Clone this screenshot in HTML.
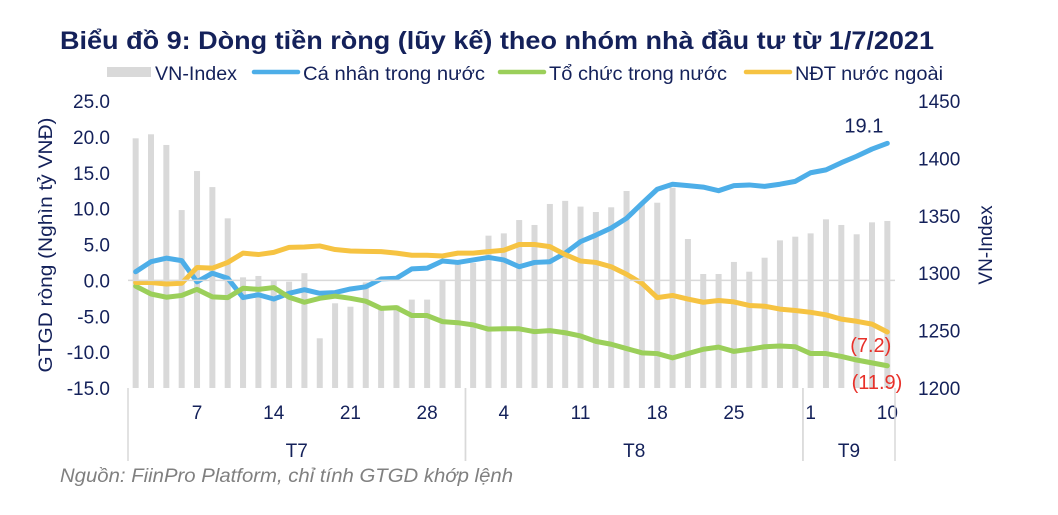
<!DOCTYPE html>
<html><head><meta charset="utf-8"><style>
body{margin:0;background:#fff;width:1058px;height:510px;overflow:hidden;font-family:"Liberation Sans","Noto Sans CJK SC",sans-serif}
svg text{font-family:"Liberation Sans","Noto Sans CJK SC",sans-serif}
</style></head><body>
<svg id="chart" width="1058" height="510" viewBox="0 0 1058 510" xmlns="http://www.w3.org/2000/svg">
<text x="60" y="49" font-size="25" font-weight="bold" fill="#14215a" textLength="874" lengthAdjust="spacingAndGlyphs">Biểu đồ 9: Dòng tiền ròng (lũy kế) theo nhóm nhà đầu tư từ 1/7/2021</text>
<g font-size="19" fill="#14215a">
<rect x="107" y="67" width="44" height="10" fill="#d9d9d9"/>
<text x="155" y="80" textLength="82" lengthAdjust="spacingAndGlyphs">VN-Index</text>
<line x1="254" y1="72" x2="298" y2="72" stroke="#4daee8" stroke-width="4.5" stroke-linecap="round"/>
<text x="303" y="80" textLength="182" lengthAdjust="spacingAndGlyphs">Cá nhân trong nước</text>
<line x1="500" y1="72" x2="544" y2="72" stroke="#9bcf5a" stroke-width="4.5" stroke-linecap="round"/>
<text x="549" y="80" textLength="178" lengthAdjust="spacingAndGlyphs">Tổ chức trong nước</text>
<line x1="746" y1="72" x2="790" y2="72" stroke="#f6c342" stroke-width="4.5" stroke-linecap="round"/>
<text x="795" y="80" textLength="148" lengthAdjust="spacingAndGlyphs">NĐT nước ngoài</text>
</g>
<g id="bars"></g><g id="lines"></g><g id="axes"></g>
<text transform="translate(52,245) rotate(-90)" text-anchor="middle" font-size="19" fill="#14215a" textLength="255" lengthAdjust="spacingAndGlyphs">GTGD ròng (Nghìn tỷ VNĐ)</text>
<text transform="translate(992,245) rotate(-90)" text-anchor="middle" font-size="19" fill="#14215a">VN-Index</text>
<text x="60" y="482" font-size="19" font-style="italic" fill="#808080" textLength="453" lengthAdjust="spacingAndGlyphs">Nguồn: FiinPro Platform, chỉ tính GTGD khớp lệnh</text>
</svg>
<script>
const vnIndex=[1417.5,1421,1411.7,1355,1389,1375,1347.8,1296.4,1297.6,1293.8,1292.6,1300,1243.3,1273.8,1270.8,1292,1268,1272,1277,1277,1294,1308.6,1309,1332.7,1334.7,1346.3,1342,1360.3,1363,1358,1353.3,1357.4,1371.6,1360,1361.4,1374.5,1329.8,1299.3,1299.3,1309.8,1301.3,1313.5,1328.6,1331.8,1334.7,1346.9,1342,1333.9,1344.3,1345.5];
const individual=[1.2,2.6,3.1,2.75,-0.2,1.0,0.3,-2.4,-2.0,-2.6,-1.8,-1.3,-1.8,-1.7,-1.2,-0.9,0.2,0.3,1.6,1.7,2.7,2.5,2.85,3.2,2.85,1.9,2.5,2.6,3.8,5.4,6.3,7.3,8.65,10.7,12.7,13.4,13.2,13.0,12.5,13.2,13.3,13.1,13.4,13.8,15.0,15.4,16.4,17.3,18.3,19.1];
const institution=[-0.8,-1.9,-2.35,-2.1,-1.25,-2.3,-2.4,-1.1,-1.25,-1.0,-2.35,-3.05,-2.5,-2.2,-2.5,-2.9,-3.9,-3.8,-4.9,-4.9,-5.75,-5.9,-6.2,-6.8,-6.75,-6.75,-7.15,-7.0,-7.3,-7.75,-8.5,-8.9,-9.5,-10.1,-10.2,-10.8,-10.2,-9.6,-9.3,-9.9,-9.6,-9.25,-9.15,-9.25,-10.2,-10.2,-10.6,-11.1,-11.5,-11.9];
const foreign=[-0.3,-0.3,-0.5,-0.4,1.8,1.7,2.5,3.8,3.6,3.9,4.6,4.65,4.8,4.3,4.1,4.05,4.0,3.8,3.5,3.5,3.4,3.8,3.8,4.0,4.2,5.0,5.0,4.7,3.6,2.7,2.5,1.9,0.85,-0.4,-2.4,-2.1,-2.6,-3.05,-2.8,-3.0,-3.5,-3.6,-4.0,-4.2,-4.45,-4.8,-5.4,-5.7,-6.1,-7.2];
const leftTicks=["25.0","20.0","15.0","10.0","5.0","0.0","-5.0","-10.0","-15.0"];
const rightTicks=["1450","1400","1350","1300","1250","1200"];
const dayLabels=[{i:4,t:"7"},{i:9,t:"14"},{i:14,t:"21"},{i:19,t:"28"},{i:24,t:"4"},{i:29,t:"11"},{i:34,t:"18"},{i:39,t:"25"},{i:44,t:"1"},{i:49,t:"10"}];
const months=[{s:0,e:22,t:"T7"},{s:22,e:44,t:"T8"},{s:44,e:50,t:"T9"}];

const NS="http://www.w3.org/2000/svg";
const X0=128,STEP=(895-128)/50,TOP=101,BOT=388;
const yL=v=>TOP+(25-v)*(BOT-TOP)/40;
const yR=v=>TOP+(1450-v)*(BOT-TOP)/250;
const xC=i=>X0+(i+0.5)*STEP;
function mk(tag,attrs,parent){const e=document.createElementNS(NS,tag);for(const k in attrs)e.setAttribute(k,attrs[k]);parent.appendChild(e);return e;}
const bars=document.getElementById('bars'),lines=document.getElementById('lines'),axes=document.getElementById('axes');
vnIndex.forEach((v,i)=>{const r=mk('rect',{x:xC(i)-3,y:yR(v),width:6,height:BOT-yR(v),fill:'#d9d9d9'},bars);

});
const zl=mk('line',{x1:X0,x2:895,y1:yL(0),y2:yL(0),stroke:'#d9d9d9','stroke-width':1.5},axes);


[[individual,'#4daee8','individual-line'],[institution,'#9bcf5a','institution-line'],[foreign,'#f6c342','foreign-line']].forEach(([d,c,n])=>{
const p=mk('polyline',{points:d.map((v,i)=>xC(i)+','+yL(v)).join(' '),fill:'none',stroke:c,'stroke-width':5,'stroke-linejoin':'round','stroke-linecap':'round'},lines);

});
leftTicks.forEach((t,k)=>{const e=mk('text',{x:110,y:TOP+k*(BOT-TOP)/8+7,'text-anchor':'end','font-size':19,fill:'#14215a'},axes);e.textContent=t;

});
rightTicks.forEach((t,k)=>{const e=mk('text',{x:918,y:TOP+k*(BOT-TOP)/5+7,'font-size':19,fill:'#14215a'},axes);e.textContent=t;

});
dayLabels.forEach(d=>{const e=mk('text',{x:xC(d.i),y:419,'text-anchor':'middle','font-size':19,fill:'#14215a'},axes);e.textContent=d.t;

});
months.forEach(m=>{const e=mk('text',{x:(X0+m.s*STEP+X0+m.e*STEP)/2,y:457,'text-anchor':'middle','font-size':19,fill:'#14215a'},axes);e.textContent=m.t;


[m.s,m.e].forEach(b=>{const l=mk('line',{x1:X0+b*STEP,x2:X0+b*STEP,y1:388,y2:461,stroke:'#d9d9d9','stroke-width':1.5},axes);

});});
const n=individual.length-1;
const a1=mk('text',{x:xC(n)-4,y:yL(individual[n])-11,'text-anchor':'end','font-size':20,fill:'#14215a'},axes);a1.textContent=individual[n].toFixed(1);


const a2=mk('text',{x:xC(n)+4,y:yL(foreign[n])+20,'text-anchor':'end','font-size':20,fill:'#e8312a'},axes);a2.textContent='('+Math.abs(foreign[n]).toFixed(1)+')';


const a3=mk('text',{x:xC(n)+15,y:yL(institution[n])+23,'text-anchor':'end','font-size':20,fill:'#e8312a'},axes);a3.textContent='('+Math.abs(institution[n]).toFixed(1)+')';


</script>
</body></html>
